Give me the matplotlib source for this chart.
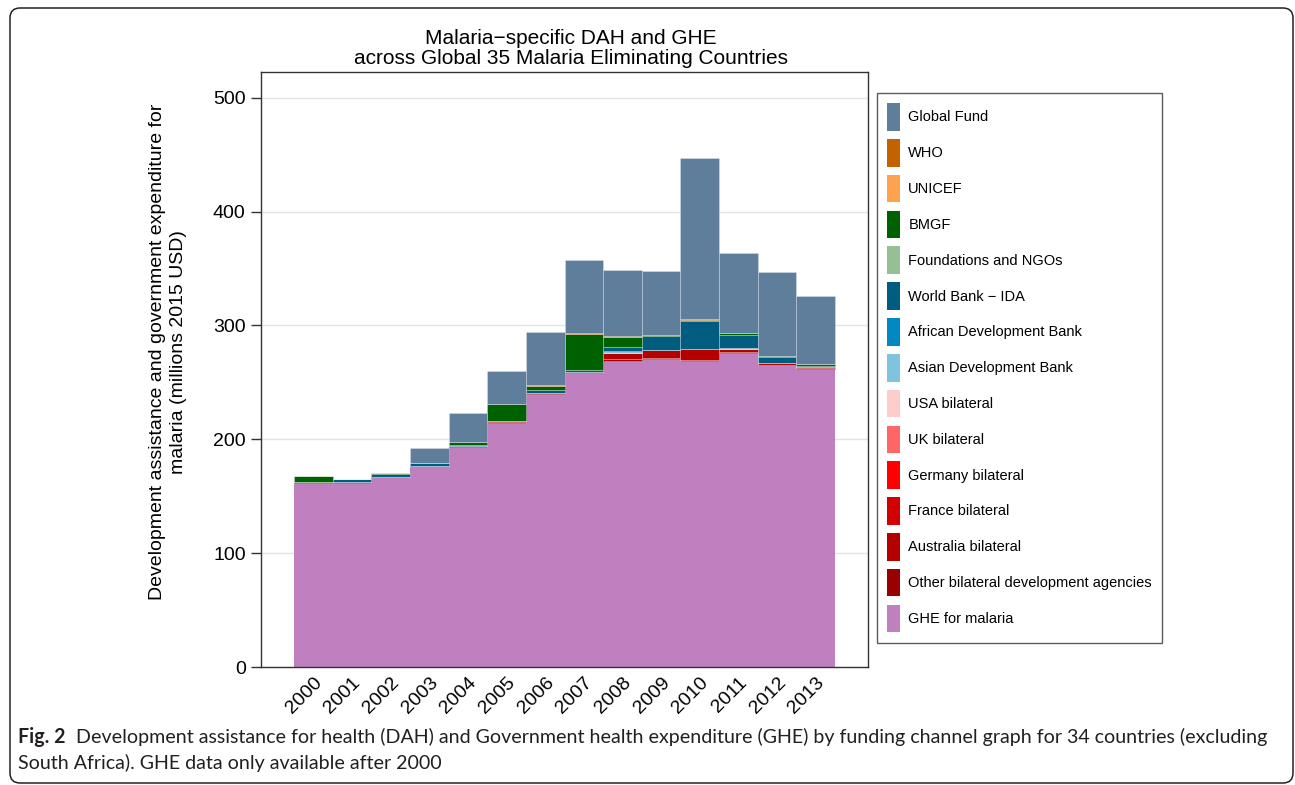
import numpy as np
import matplotlib
matplotlib.use("Agg")
import matplotlib.pyplot as plt
from matplotlib.patches import FancyBboxPatch, Patch
from matplotlib.transforms import IdentityTransform

# ---------------- data ----------------
years = [2000, 2001, 2002, 2003, 2004, 2005, 2006, 2007, 2008, 2009, 2010, 2011, 2012, 2013]

ghe         = [162.0, 162.0, 167.0, 176.4, 193.6, 214.7, 240.2, 258.0, 269.2, 270.4, 269.2, 276.2, 265.1, 262.1]
other_bil   = [0.3, 0.2, 0.2, 0.2, 0.3, 0.4, 0.4, 0.5, 1.0, 0.6, 0.8, 0.5, 0.4, 0.4]
australia   = [0.0, 0.0, 0.0, 0.0, 0.0, 0.8, 0.4, 1.0, 5.8, 7.0, 9.5, 3.0, 1.2, 1.2]
france      = [0.0] * 14
germany     = [0.0] * 14
uk          = [0.0] * 14
usa         = [0.0] * 14
asdb        = [0.0, 0.0, 0.0, 0.0, 0.0, 0.0, 0.0, 0.0, 0.6, 0.0, 0.0, 0.4, 0.0, 0.0]
afdb        = [0.0, 0.0, 0.0, 0.0, 0.0, 0.0, 0.0, 0.0, 1.0, 0.0, 0.0, 0.0, 0.0, 0.0]
world_bank  = [0.3, 2.5, 2.3, 2.6, 1.5, 0.6, 2.0, 1.0, 3.8, 12.9, 24.2, 11.7, 5.2, 0.4]
foundations = [0.0] * 14
bmgf        = [5.3, 0.3, 1.0, 0.4, 2.4, 14.5, 3.5, 32.2, 8.3, 0.8, 1.4, 1.2, 0.9, 1.8]
unicef      = [0.0] * 14
who         = [0.0, 0.0, 0.0, 0.0, 0.2, 0.3, 0.8, 0.5, 1.0, 0.2, 0.2, 0.2, 0.2, 0.2]
global_fund = [0.0, 0.5, 0.2, 12.9, 24.9, 29.1, 46.5, 64.4, 58.2, 56.1, 141.4, 70.3, 73.5, 59.9]

# stacking order bottom -> top
series_names = ["GHE for malaria", "Other bilateral development agencies", "Australia bilateral",
                "France bilateral", "Germany bilateral", "UK bilateral", "USA bilateral",
                "Asian Development Bank", "African Development Bank", "World Bank \u2212 IDA",
                "Foundations and NGOs", "BMGF", "UNICEF", "WHO", "Global Fund"]
series_values = [ghe, other_bil, australia, france, germany, uk, usa, asdb, afdb, world_bank,
                 foundations, bmgf, unicef, who, global_fund]
series_colors = ["#C080C0", "#990000", "#B50000", "#D40000", "#FF0000", "#FF6666", "#FFCCCC",
                 "#7EC4E0", "#0088C2", "#005D80", "#96BF96", "#006100", "#FFA24D", "#C46200",
                 "#5F7E9B"]

title_text = "Malaria\u2212specific DAH and GHE\nacross Global 35 Malaria Eliminating Countries"
ylabel_text = "Development assistance and government expenditure for\nmalaria (millions 2015 USD)"
caption_bold = "Fig. 2"
caption_line1 = "Development assistance for health (DAH) and Government health expenditure (GHE) by funding channel graph for 34 countries (excluding"
caption_line2 = "South Africa). GHE data only available after 2000"

# ---------------- figure ----------------
W, H = 1295, 785
plt.rcParams['font.family'] = ['Liberation Sans', 'DejaVu Sans']
fig = plt.figure(figsize=(W / 100, H / 100), dpi=100)

ax = fig.add_axes([261 / W, 1 - 667 / H, (868 - 261) / W, (667 - 72) / H])

bottom = np.zeros(len(years))
for i, (name, vals, col) in enumerate(zip(series_names, series_values, series_colors)):
    v = np.array(vals, dtype=float)
    ax.bar(years, v, width=1.0, bottom=bottom, color=col,
           edgecolor=(1, 1, 1, 0.35), linewidth=0 if i == 0 else 0.5,
           label=name, zorder=2)
    bottom += v

ax.set_xlim(1998.65, 2014.35)
ax.set_ylim(0, 522.6)
ax.set_yticks([0, 100, 200, 300, 400, 500])
ax.set_xticks(years)
ax.set_xticklabels([str(y) for y in years], rotation=45, ha='right', va='top',
                   rotation_mode='anchor', fontsize=14)
ax.tick_params(axis='x', length=0, pad=5)
ax.tick_params(axis='y', length=7, width=1, color='#333333', labelsize=14, pad=4)
ax.yaxis.grid(True, color='#E3E3E3', linewidth=1, zorder=0)
ax.set_axisbelow(True)
for s in ax.spines.values():
    s.set_color('#333333')
    s.set_linewidth(1)

# title & y label
fig.text(571 / W, 1 - 64 / H, title_text, ha='center', va='baseline', fontsize=15,
         linespacing=1.05, multialignment='center')
fig.text(168 / W, 1 - 352 / H, ylabel_text, ha='center', va='center', rotation=90,
         fontsize=14, linespacing=1.25, multialignment='center')

# legend (top-to-bottom: Global Fund ... GHE)
handles = [Patch(facecolor=c, edgecolor='none') for c in series_colors][::-1]
labels = series_names[::-1]
leg = fig.legend(handles, labels, loc='upper left', bbox_to_anchor=(877 / W, 1 - 93 / H),
                 bbox_transform=fig.transFigure, borderaxespad=0, fontsize=10.5,
                 handlelength=0.9, handleheight=2.54, labelspacing=0.56,
                 handletextpad=0.55, borderpad=0.7, fancybox=False, frameon=True)
leg.get_frame().set_edgecolor('#333333')
leg.get_frame().set_linewidth(1)

# caption
renderer = fig.canvas.get_renderer()
cap_color = '#231F20'
f0 = 13.0
tb = fig.text(18 / W, 1 - 743 / H, caption_bold, fontsize=f0, fontweight='bold',
              family='Lato', va='baseline', ha='left', color=cap_color)
tr = fig.text(0, 1 - 743 / H, caption_line1, fontsize=f0, family='Lato',
              va='baseline', ha='left', color=cap_color)
wb = tb.get_window_extent(renderer).width
wr = tr.get_window_extent(renderer).width
gap = 0.55 * f0 * 100 / 72
scale = (1263 - 18) / (wb + gap + wr)
f = f0 * scale
tb.set_fontsize(f)
tr.set_fontsize(f)
wb = tb.get_window_extent(renderer).width
gap = 0.55 * f * 100 / 72
tr.set_x((18 + wb + gap) / W)
fig.text(18 / W, 1 - 769 / H, caption_line2, fontsize=f, family='Lato',
         va='baseline', ha='left', color=cap_color)

# rounded border
border = FancyBboxPatch((10, 2), 1283, 775, boxstyle="round,pad=0,rounding_size=10",
                        transform=IdentityTransform(), facecolor='none',
                        edgecolor='#222222', linewidth=1.1)
fig.add_artist(border)

fig.savefig("out.png", dpi=100)
